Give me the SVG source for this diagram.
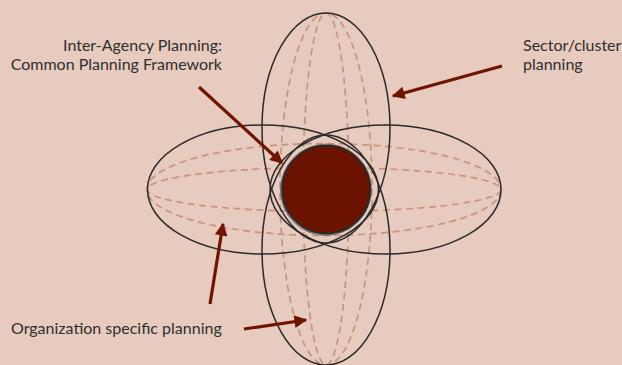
<svg xmlns="http://www.w3.org/2000/svg" width="622" height="365" viewBox="0 0 622 365">
<defs>
<style>
.bg{fill:#E7CBBE}
.solid{fill:none;stroke:#2a2a2a;stroke-width:1.5}
.dash{fill:none;stroke:#C7957F;stroke-width:1.7;stroke-dasharray:7 4.5}
.arr{stroke:#6E1400;stroke-width:3.2;fill:none;marker-end:url(#ah)}
.lbl{font-family:"Lato","Open Sans",sans-serif;font-size:16px;fill:#2f2f2f}
</style>
<marker id="ah" viewBox="0 0 10 10" refX="9" refY="5" markerWidth="4.6" markerHeight="4" orient="auto" markerUnits="strokeWidth">
<path d="M0,0 L10,5 L0,10 z" fill="#6E1400"/>
</marker>
</defs>
<rect class="bg" x="0" y="0" width="622" height="365"/>
<g id="guides">
<ellipse class="dash" cx="324" cy="189.5" rx="177" ry="46"/>
<ellipse class="dash" cx="324" cy="189.5" rx="177" ry="22"/>
<ellipse class="dash" cx="326" cy="189" rx="46" ry="176"/>
<ellipse class="dash" cx="326" cy="189" rx="23" ry="176"/>
</g>
<g id="left-ellipse"><ellipse class="solid" cx="263" cy="189.5" rx="115.5" ry="64.5"/></g>
<g id="right-ellipse"><ellipse class="solid" cx="385.5" cy="189.5" rx="115.5" ry="64.5"/></g>
<g id="top-ellipse"><ellipse class="solid" cx="326" cy="128" rx="64" ry="115"/></g>
<g id="bottom-ellipse"><ellipse class="solid" cx="326" cy="250" rx="64" ry="115"/></g>
<g id="core">
<circle cx="326" cy="189.5" r="45.5" fill="none" stroke="#555" stroke-width="0.6"/>
<circle cx="325.5" cy="190.5" r="45" fill="none" stroke="#555" stroke-width="0.6"/>
<circle cx="326.2" cy="189.5" r="44" fill="#6B1200" stroke="#2a2a2a" stroke-width="2"/>
</g>
<g id="connectors">
<line class="arr" x1="199" y1="87" x2="282" y2="163"/>
<line class="arr" x1="502" y1="66" x2="393" y2="96"/>
<line class="arr" x1="210" y1="304" x2="223" y2="224"/>
<line class="arr" x1="244" y1="329" x2="306" y2="320"/>
</g>
<g id="label-interagency">
<text class="lbl" x="222" y="51" text-anchor="end">Inter-Agency Planning:</text>
<text class="lbl" x="222" y="69.5" text-anchor="end">Common Planning Framework</text>
</g>
<g id="label-sector">
<text class="lbl" x="523" y="51">Sector/cluster</text>
<text class="lbl" x="523" y="69.5">planning</text>
</g>
<g id="label-org">
<text class="lbl" x="11" y="334">Organization specific planning</text>
</g>
</svg>
